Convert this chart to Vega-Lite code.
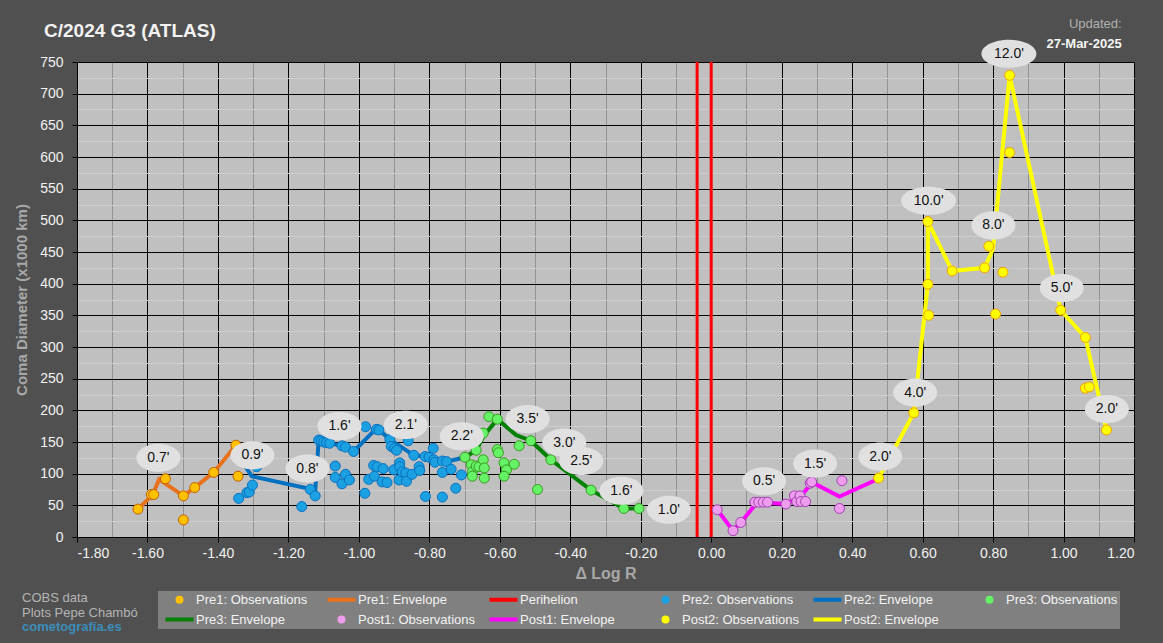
{
  "$schema": "https://vega.github.io/schema/vega-lite/v6.json",
  "autosize": {"type": "none"},
  "width": 1057,
  "height": 475,
  "padding": {"left": 77, "top": 62, "right": 29, "bottom": 106},
  "background": "#505050",
  "config": {
    "view": {"fill": "#c0c0c0", "stroke": "#8a8a8a"},
    "font": "Liberation Sans"
  },
  "datasets": {
    "obs": [
      {"s": "Pre1: Observations", "x": -1.627, "y": 44},
      {"s": "Pre1: Observations", "x": -1.589, "y": 67},
      {"s": "Pre1: Observations", "x": -1.582, "y": 67},
      {"s": "Pre1: Observations", "x": -1.549, "y": 92},
      {"s": "Pre1: Observations", "x": -1.498, "y": 65},
      {"s": "Pre1: Observations", "x": -1.498, "y": 27},
      {"s": "Pre1: Observations", "x": -1.466, "y": 78},
      {"s": "Pre1: Observations", "x": -1.412, "y": 102},
      {"s": "Pre1: Observations", "x": -1.349, "y": 145},
      {"s": "Pre1: Observations", "x": -1.343, "y": 96},
      {"s": "Pre2: Observations", "x": -1.341, "y": 61},
      {"s": "Pre2: Observations", "x": -1.318, "y": 70},
      {"s": "Pre2: Observations", "x": -1.311, "y": 71},
      {"s": "Pre2: Observations", "x": -1.302, "y": 82},
      {"s": "Pre2: Observations", "x": -1.29, "y": 111},
      {"s": "Pre2: Observations", "x": -1.162, "y": 48},
      {"s": "Pre2: Observations", "x": -1.138, "y": 75},
      {"s": "Pre2: Observations", "x": -1.124, "y": 65},
      {"s": "Pre2: Observations", "x": -1.114, "y": 153},
      {"s": "Pre2: Observations", "x": -1.107, "y": 152},
      {"s": "Pre2: Observations", "x": -1.1, "y": 150},
      {"s": "Pre2: Observations", "x": -1.092, "y": 149},
      {"s": "Pre2: Observations", "x": -1.083, "y": 148},
      {"s": "Pre2: Observations", "x": -1.067, "y": 112},
      {"s": "Pre2: Observations", "x": -1.067, "y": 94},
      {"s": "Pre2: Observations", "x": -1.048, "y": 144},
      {"s": "Pre2: Observations", "x": -1.038, "y": 142},
      {"s": "Pre2: Observations", "x": -1.048, "y": 84},
      {"s": "Pre2: Observations", "x": -1.038, "y": 99},
      {"s": "Pre2: Observations", "x": -1.027, "y": 90},
      {"s": "Pre2: Observations", "x": -1.015, "y": 135},
      {"s": "Pre2: Observations", "x": -0.981, "y": 174},
      {"s": "Pre2: Observations", "x": -0.983, "y": 69},
      {"s": "Pre2: Observations", "x": -0.972, "y": 91},
      {"s": "Pre2: Observations", "x": -0.958, "y": 113},
      {"s": "Pre2: Observations", "x": -0.956, "y": 96},
      {"s": "Pre2: Observations", "x": -0.948, "y": 111},
      {"s": "Pre2: Observations", "x": -0.95, "y": 170},
      {"s": "Pre2: Observations", "x": -0.943, "y": 169},
      {"s": "Pre2: Observations", "x": -0.931, "y": 108},
      {"s": "Pre2: Observations", "x": -0.934, "y": 87},
      {"s": "Pre2: Observations", "x": -0.92, "y": 86},
      {"s": "Pre2: Observations", "x": -0.912, "y": 154},
      {"s": "Pre2: Observations", "x": -0.908, "y": 143},
      {"s": "Pre2: Observations", "x": -0.899, "y": 140},
      {"s": "Pre2: Observations", "x": -0.893, "y": 137},
      {"s": "Pre2: Observations", "x": -0.901, "y": 106},
      {"s": "Pre2: Observations", "x": -0.886, "y": 90},
      {"s": "Pre2: Observations", "x": -0.884, "y": 117},
      {"s": "Pre2: Observations", "x": -0.884, "y": 111},
      {"s": "Pre2: Observations", "x": -0.877, "y": 103},
      {"s": "Pre2: Observations", "x": -0.867, "y": 101},
      {"s": "Pre2: Observations", "x": -0.865, "y": 88},
      {"s": "Pre2: Observations", "x": -0.86, "y": 152},
      {"s": "Pre2: Observations", "x": -0.849, "y": 99},
      {"s": "Pre2: Observations", "x": -0.844, "y": 129},
      {"s": "Pre2: Observations", "x": -0.829, "y": 111},
      {"s": "Pre2: Observations", "x": -0.827, "y": 105},
      {"s": "Pre2: Observations", "x": -0.811, "y": 64},
      {"s": "Pre2: Observations", "x": -0.812, "y": 127},
      {"s": "Pre2: Observations", "x": -0.801, "y": 126},
      {"s": "Pre2: Observations", "x": -0.789, "y": 140},
      {"s": "Pre2: Observations", "x": -0.787, "y": 122},
      {"s": "Pre2: Observations", "x": -0.784, "y": 118},
      {"s": "Pre2: Observations", "x": -0.763, "y": 120},
      {"s": "Pre2: Observations", "x": -0.751, "y": 119},
      {"s": "Pre2: Observations", "x": -0.763, "y": 63},
      {"s": "Pre2: Observations", "x": -0.763, "y": 102},
      {"s": "Pre2: Observations", "x": -0.738, "y": 107},
      {"s": "Pre2: Observations", "x": -0.725, "y": 77},
      {"s": "Pre2: Observations", "x": -0.709, "y": 98},
      {"s": "Pre3: Observations", "x": -0.699, "y": 126},
      {"s": "Pre3: Observations", "x": -0.667, "y": 137},
      {"s": "Pre3: Observations", "x": -0.647, "y": 164},
      {"s": "Pre3: Observations", "x": -0.631, "y": 190},
      {"s": "Pre3: Observations", "x": -0.607, "y": 186},
      {"s": "Pre3: Observations", "x": -0.607, "y": 138},
      {"s": "Pre3: Observations", "x": -0.604, "y": 133},
      {"s": "Pre3: Observations", "x": -0.545, "y": 144},
      {"s": "Pre3: Observations", "x": -0.512, "y": 152},
      {"s": "Pre3: Observations", "x": -0.455, "y": 122},
      {"s": "Pre3: Observations", "x": -0.493, "y": 75},
      {"s": "Pre3: Observations", "x": -0.681, "y": 114},
      {"s": "Pre3: Observations", "x": -0.678, "y": 103},
      {"s": "Pre3: Observations", "x": -0.678, "y": 96},
      {"s": "Pre3: Observations", "x": -0.667, "y": 112},
      {"s": "Pre3: Observations", "x": -0.659, "y": 111},
      {"s": "Pre3: Observations", "x": -0.647, "y": 122},
      {"s": "Pre3: Observations", "x": -0.644, "y": 109},
      {"s": "Pre3: Observations", "x": -0.644, "y": 93},
      {"s": "Pre3: Observations", "x": -0.588, "y": 117},
      {"s": "Pre3: Observations", "x": -0.581, "y": 106},
      {"s": "Pre3: Observations", "x": -0.588, "y": 96},
      {"s": "Pre3: Observations", "x": -0.559, "y": 115},
      {"s": "Pre3: Observations", "x": -0.341, "y": 74},
      {"s": "Pre3: Observations", "x": -0.248, "y": 45},
      {"s": "Pre3: Observations", "x": -0.205, "y": 45},
      {"s": "Post1: Observations", "x": 0.017, "y": 43},
      {"s": "Post1: Observations", "x": 0.062, "y": 10},
      {"s": "Post1: Observations", "x": 0.084, "y": 23},
      {"s": "Post1: Observations", "x": 0.124, "y": 55},
      {"s": "Post1: Observations", "x": 0.135, "y": 55},
      {"s": "Post1: Observations", "x": 0.148, "y": 55},
      {"s": "Post1: Observations", "x": 0.16, "y": 55},
      {"s": "Post1: Observations", "x": 0.212, "y": 52},
      {"s": "Post1: Observations", "x": 0.236, "y": 65},
      {"s": "Post1: Observations", "x": 0.243, "y": 56},
      {"s": "Post1: Observations", "x": 0.252, "y": 65},
      {"s": "Post1: Observations", "x": 0.255, "y": 56},
      {"s": "Post1: Observations", "x": 0.268, "y": 56},
      {"s": "Post1: Observations", "x": 0.281, "y": 85},
      {"s": "Post1: Observations", "x": 0.285, "y": 87},
      {"s": "Post1: Observations", "x": 0.371, "y": 89},
      {"s": "Post1: Observations", "x": 0.364, "y": 45},
      {"s": "Post2: Observations", "x": 0.475, "y": 93},
      {"s": "Post2: Observations", "x": 0.575, "y": 196},
      {"s": "Post2: Observations", "x": 0.615, "y": 399},
      {"s": "Post2: Observations", "x": 0.617, "y": 350},
      {"s": "Post2: Observations", "x": 0.615, "y": 498},
      {"s": "Post2: Observations", "x": 0.684, "y": 420},
      {"s": "Post2: Observations", "x": 0.776, "y": 425},
      {"s": "Post2: Observations", "x": 0.788, "y": 459},
      {"s": "Post2: Observations", "x": 0.807, "y": 352},
      {"s": "Post2: Observations", "x": 0.828, "y": 418},
      {"s": "Post2: Observations", "x": 0.847, "y": 729},
      {"s": "Post2: Observations", "x": 0.847, "y": 607},
      {"s": "Post2: Observations", "x": 0.992, "y": 358},
      {"s": "Post2: Observations", "x": 1.062, "y": 315},
      {"s": "Post2: Observations", "x": 1.062, "y": 235},
      {"s": "Post2: Observations", "x": 1.073, "y": 237},
      {"s": "Post2: Observations", "x": 1.122, "y": 169}
    ],
    "env": [
      {"s": "Pre1: Envelope", "x": -1.627, "y": 44},
      {"s": "Pre1: Envelope", "x": -1.585, "y": 67},
      {"s": "Pre1: Envelope", "x": -1.567, "y": 91},
      {"s": "Pre1: Envelope", "x": -1.498, "y": 65},
      {"s": "Pre1: Envelope", "x": -1.466, "y": 78},
      {"s": "Pre1: Envelope", "x": -1.412, "y": 102},
      {"s": "Pre1: Envelope", "x": -1.349, "y": 145},
      {"s": "Pre2: Envelope", "x": -1.33, "y": 118},
      {"s": "Pre2: Envelope", "x": -1.318, "y": 108},
      {"s": "Pre2: Envelope", "x": -1.304, "y": 96},
      {"s": "Pre2: Envelope", "x": -1.14, "y": 76},
      {"s": "Pre2: Envelope", "x": -1.125, "y": 65},
      {"s": "Pre2: Envelope", "x": -1.114, "y": 153},
      {"s": "Pre2: Envelope", "x": -1.083, "y": 148},
      {"s": "Pre2: Envelope", "x": -1.048, "y": 144},
      {"s": "Pre2: Envelope", "x": -1.015, "y": 135},
      {"s": "Pre2: Envelope", "x": -0.953, "y": 170},
      {"s": "Pre2: Envelope", "x": -0.943, "y": 169},
      {"s": "Pre2: Envelope", "x": -0.912, "y": 154},
      {"s": "Pre2: Envelope", "x": -0.844, "y": 129},
      {"s": "Pre2: Envelope", "x": -0.812, "y": 127},
      {"s": "Pre2: Envelope", "x": -0.787, "y": 122},
      {"s": "Pre2: Envelope", "x": -0.751, "y": 119},
      {"s": "Pre2: Envelope", "x": -0.699, "y": 126},
      {"s": "Pre3: Envelope", "x": -0.699, "y": 126},
      {"s": "Pre3: Envelope", "x": -0.667, "y": 137},
      {"s": "Pre3: Envelope", "x": -0.645, "y": 160},
      {"s": "Pre3: Envelope", "x": -0.607, "y": 186},
      {"s": "Pre3: Envelope", "x": -0.554, "y": 161},
      {"s": "Pre3: Envelope", "x": -0.512, "y": 152},
      {"s": "Pre3: Envelope", "x": -0.455, "y": 122},
      {"s": "Pre3: Envelope", "x": -0.341, "y": 74},
      {"s": "Pre3: Envelope", "x": -0.248, "y": 45},
      {"s": "Pre3: Envelope", "x": -0.205, "y": 45},
      {"s": "Post1: Envelope", "x": 0.017, "y": 43},
      {"s": "Post1: Envelope", "x": 0.062, "y": 10},
      {"s": "Post1: Envelope", "x": 0.084, "y": 23},
      {"s": "Post1: Envelope", "x": 0.131, "y": 55},
      {"s": "Post1: Envelope", "x": 0.212, "y": 52},
      {"s": "Post1: Envelope", "x": 0.255, "y": 65},
      {"s": "Post1: Envelope", "x": 0.287, "y": 86},
      {"s": "Post1: Envelope", "x": 0.364, "y": 64},
      {"s": "Post1: Envelope", "x": 0.475, "y": 92},
      {"s": "Post2: Envelope", "x": 0.475, "y": 93},
      {"s": "Post2: Envelope", "x": 0.575, "y": 196},
      {"s": "Post2: Envelope", "x": 0.615, "y": 399},
      {"s": "Post2: Envelope", "x": 0.615, "y": 498},
      {"s": "Post2: Envelope", "x": 0.684, "y": 420},
      {"s": "Post2: Envelope", "x": 0.776, "y": 425},
      {"s": "Post2: Envelope", "x": 0.8, "y": 455},
      {"s": "Post2: Envelope", "x": 0.847, "y": 729},
      {"s": "Post2: Envelope", "x": 0.992, "y": 358},
      {"s": "Post2: Envelope", "x": 1.062, "y": 315},
      {"s": "Post2: Envelope", "x": 1.122, "y": 169}
    ],
    "peri": [
      {"s": "Perihelion", "x": -0.04},
      {"s": "Perihelion", "x": 0}
    ],
    "labels": [
      {"label": "0.7'", "x": -1.569, "y": 125},
      {"label": "0.9'", "x": -1.302, "y": 129},
      {"label": "0.8'", "x": -1.146, "y": 108},
      {"label": "1.6'", "x": -1.055, "y": 175},
      {"label": "2.1'", "x": -0.867, "y": 177},
      {"label": "2.2'", "x": -0.708, "y": 159},
      {"label": "3.5'", "x": -0.521, "y": 186},
      {"label": "3.0'", "x": -0.417, "y": 149},
      {"label": "2.5'", "x": -0.369, "y": 120},
      {"label": "1.6'", "x": -0.255, "y": 73},
      {"label": "1.0'", "x": -0.12, "y": 43},
      {"label": "0.5'", "x": 0.15, "y": 88},
      {"label": "1.5'", "x": 0.295, "y": 116},
      {"label": "2.0'", "x": 0.48, "y": 127},
      {"label": "4.0'", "x": 0.579, "y": 228},
      {"label": "10.0'", "x": 0.617, "y": 531},
      {"label": "8.0'", "x": 0.801, "y": 492},
      {"label": "12.0'", "x": 0.845, "y": 763},
      {"label": "5.0'", "x": 0.995, "y": 393},
      {"label": "2.0'", "x": 1.123, "y": 202}
    ]
  },
  "resolve": {"axis": {"x": "independent", "y": "independent"}},
  "layer": [
    {
      "data": {"name": "labels"},
      "mark": {"type": "point", "opacity": 0},
      "encoding": {
        "x": {
          "field": "x", "type": "quantitative",
          "scale": {"domain": [-1.8, 1.2], "nice": false, "zero": false},
          "axis": {
            "orient": "top",
            "values": [-1.7, -1.5, -1.3, -1.1, -0.9, -0.7, -0.5, -0.3, -0.1, 0.1, 0.3, 0.5, 0.7, 0.9, 1.1],
            "grid": true, "gridColor": "#929292", "gridWidth": 1,
            "labels": false, "ticks": false, "domain": false, "title": null
          }
        },
        "y": {
          "field": "y", "type": "quantitative",
          "scale": {"domain": [0, 750], "nice": false, "zero": false},
          "axis": {
            "orient": "right",
            "values": [25, 75, 125, 175, 225, 275, 325, 375, 425, 475, 525, 575, 625, 675, 725],
            "grid": true, "gridColor": "#cdcdcd", "gridWidth": 1,
            "labels": false, "ticks": false, "domain": false, "title": null
          }
        }
      }
    },
    {
      "data": {"name": "peri"},
      "mark": {"type": "rule", "strokeWidth": 3},
      "encoding": {
        "x": {"field": "x", "type": "quantitative", "axis": null},
        "stroke": {
          "field": "s", "type": "nominal",
          "scale": {
            "domain": ["Pre1: Observations", "Pre2: Observations", "Pre3: Observations", "Post1: Observations", "Post2: Observations", "Pre1: Envelope", "Perihelion", "Pre2: Envelope", "Pre3: Envelope", "Post1: Envelope", "Post2: Envelope"],
            "range": ["#C0600A", "#0A70C0", "#3A9A20", "#A040B0", "#F0A000", "#E8711C", "#FF0000", "#0070C0", "#008000", "#FF00FF", "#FFFF00"]
          },
          "legend": null
        }
      }
    },
    {
      "data": {"name": "env"},
      "mark": {"type": "line", "strokeWidth": 4},
      "encoding": {
        "x": {
          "field": "x", "type": "quantitative",
          "axis": {
            "orient": "bottom",
            "values": [-1.8, -1.6, -1.4, -1.2, -1, -0.8, -0.6, -0.4, -0.2, 0, 0.2, 0.4, 0.6, 0.8, 1, 1.2],
            "labelExpr": "(datum.value < -0.0001 ? '-' : '') + format(abs(datum.value), '.2f')",
            "labelOverlap": false,
            "grid": true, "gridColor": "#000000", "gridWidth": 1,
            "domainColor": "#000000", "tickColor": "#000000", "tickSize": 5,
            "labelColor": "#f2f2f2", "labelFontSize": 14, "labelFont": "Liberation Sans", "labelPadding": 4,
            "title": "Δ Log R", "titleColor": "#a8a8a8", "titleFontSize": 16,
            "titleFont": "Liberation Sans", "titleFontWeight": "bold", "titlePadding": 5
          }
        },
        "y": {
          "field": "y", "type": "quantitative",
          "axis": {
            "orient": "left",
            "values": [0, 50, 100, 150, 200, 250, 300, 350, 400, 450, 500, 550, 600, 650, 700, 750],
            "labelOverlap": false,
            "grid": true, "gridColor": "#000000", "gridWidth": 1,
            "domainColor": "#000000", "tickColor": "#000000", "tickSize": 5,
            "labelColor": "#f2f2f2", "labelFontSize": 14, "labelFont": "Liberation Sans", "labelPadding": 9,
            "title": "Coma Diameter (x1000 km)", "titleColor": "#a8a8a8", "titleFontSize": 15,
            "titleFont": "Liberation Sans", "titleFontWeight": "bold", "titlePadding": 10
          }
        },
        "stroke": {"field": "s", "type": "nominal", "legend": null},
        "order": {"value": null}
      }
    },
    {
      "data": {"name": "obs"},
      "mark": {"type": "point", "filled": true, "size": 100, "strokeWidth": 1, "opacity": 1},
      "encoding": {
        "x": {"field": "x", "type": "quantitative", "axis": null},
        "y": {"field": "y", "type": "quantitative", "axis": null},
        "color": {
          "field": "s", "type": "nominal",
          "scale": {
            "domain": ["Pre1: Observations", "Pre1: Envelope", "Perihelion", "Pre2: Observations", "Pre2: Envelope", "Pre3: Observations", "Pre3: Envelope", "Post1: Observations", "Post1: Envelope", "Post2: Observations", "Post2: Envelope"],
            "range": ["#FFC000", "#E8711C", "#FF0000", "#1BA1E2", "#0070C0", "#66F266", "#008000", "#EE9DEE", "#FF00FF", "#FFFF00", "#FFFF00"]
          },
          "legend": {
            "title": null,
            "orient": "none",
            "legendX": 81,
            "legendY": 529,
            "direction": "horizontal",
            "columns": 6,
            "gridAlign": "all",
            "columnPadding": 8,
            "rowPadding": 6,
            "padding": 2,
            "fillColor": "#808080",
            "symbolSize": 64,
            "symbolStrokeWidth": 0,
            "symbolOffset": 13,
            "labelOffset": 10,
            "labelFont": "Liberation Sans",
            "labelFontSize": 13,
            "labelColor": "#f2f2f2"
          }
        },
        "shape": {
          "field": "s", "type": "nominal",
          "scale": {
            "domain": ["Pre1: Observations", "Pre1: Envelope", "Perihelion", "Pre2: Observations", "Pre2: Envelope", "Pre3: Observations", "Pre3: Envelope", "Post1: Observations", "Post1: Envelope", "Post2: Observations", "Post2: Envelope"],
            "range": [
              "circle",
              "M -3.5 -0.5 L 3.5 -0.5 L 3.5 0.5 L -3.5 0.5 Z",
              "M -3.5 -0.5 L 3.5 -0.5 L 3.5 0.5 L -3.5 0.5 Z",
              "circle",
              "M -3.5 -0.5 L 3.5 -0.5 L 3.5 0.5 L -3.5 0.5 Z",
              "circle",
              "M -3.5 -0.5 L 3.5 -0.5 L 3.5 0.5 L -3.5 0.5 Z",
              "circle",
              "M -3.5 -0.5 L 3.5 -0.5 L 3.5 0.5 L -3.5 0.5 Z",
              "circle",
              "M -3.5 -0.5 L 3.5 -0.5 L 3.5 0.5 L -3.5 0.5 Z"
            ]
          },
          "legend": {"title": null}
        },
        "stroke": {"field": "s", "type": "nominal", "legend": null}
      }
    },
    {
      "data": {"name": "labels"},
      "mark": {"type": "point", "filled": true, "fill": "#e0e0e0", "strokeWidth": 0, "opacity": 1},
      "encoding": {
        "x": {"field": "x", "type": "quantitative", "axis": null},
        "y": {"field": "y", "type": "quantitative", "axis": null},
        "shape": {
          "condition": {"test": "length(datum.label) > 4", "value": "M -1 0 A 1 0.51 0 1 1 1 0 A 1 0.51 0 1 1 -1 0 Z"},
          "value": "M -1 0 A 1 0.64 0 1 1 1 0 A 1 0.64 0 1 1 -1 0 Z"
        },
        "size": {
          "condition": {"test": "length(datum.label) > 4", "value": 3025},
          "value": 1936
        }
      }
    },
    {
      "data": {"name": "labels"},
      "mark": {"type": "text", "font": "Liberation Sans", "fontSize": 14, "color": "#111111", "align": "center", "baseline": "middle"},
      "encoding": {
        "x": {"field": "x", "type": "quantitative", "axis": null},
        "y": {"field": "y", "type": "quantitative", "axis": null},
        "text": {"field": "label"}
      }
    },
    {
      "data": {"values": [{"t": "C/2024 G3 (ATLAS)", "x": -1.8936, "y": 789}]},
      "mark": {"type": "text", "font": "Liberation Sans", "fontSize": 19, "fontWeight": "bold", "color": "#f2f2f2", "align": "left", "baseline": "alphabetic"},
      "encoding": {
        "x": {"field": "x", "type": "quantitative", "axis": null},
        "y": {"field": "y", "type": "quantitative", "axis": null},
        "text": {"field": "t"}
      }
    },
    {
      "data": {"values": [{"t": "Updated:", "x": 1.165, "y": 804}]},
      "mark": {"type": "text", "font": "Liberation Sans", "fontSize": 13, "color": "#b0b0b0", "align": "right", "baseline": "alphabetic"},
      "encoding": {
        "x": {"field": "x", "type": "quantitative", "axis": null},
        "y": {"field": "y", "type": "quantitative", "axis": null},
        "text": {"field": "t"}
      }
    },
    {
      "data": {"values": [{"t": "27-Mar-2025", "x": 1.165, "y": 772}]},
      "mark": {"type": "text", "font": "Liberation Sans", "fontSize": 13, "fontWeight": "bold", "color": "#f5f5f5", "align": "right", "baseline": "alphabetic"},
      "encoding": {
        "x": {"field": "x", "type": "quantitative", "axis": null},
        "y": {"field": "y", "type": "quantitative", "axis": null},
        "text": {"field": "t"}
      }
    },
    {
      "data": {"values": [{"t": "COBS data", "x": -1.956, "y": -102.6}, {"t": "Plots Pepe Chambó", "x": -1.956, "y": -127}]},
      "mark": {"type": "text", "font": "Liberation Sans", "fontSize": 13, "color": "#b4b4b4", "align": "left", "baseline": "alphabetic"},
      "encoding": {
        "x": {"field": "x", "type": "quantitative", "axis": null},
        "y": {"field": "y", "type": "quantitative", "axis": null},
        "text": {"field": "t"}
      }
    },
    {
      "data": {"values": [{"t": "cometografía.es", "x": -1.956, "y": -148}]},
      "mark": {"type": "text", "font": "Liberation Sans", "fontSize": 13, "fontWeight": "bold", "color": "#3c8dbc", "align": "left", "baseline": "alphabetic"},
      "encoding": {
        "x": {"field": "x", "type": "quantitative", "axis": null},
        "y": {"field": "y", "type": "quantitative", "axis": null},
        "text": {"field": "t"}
      }
    }
  ]
}
